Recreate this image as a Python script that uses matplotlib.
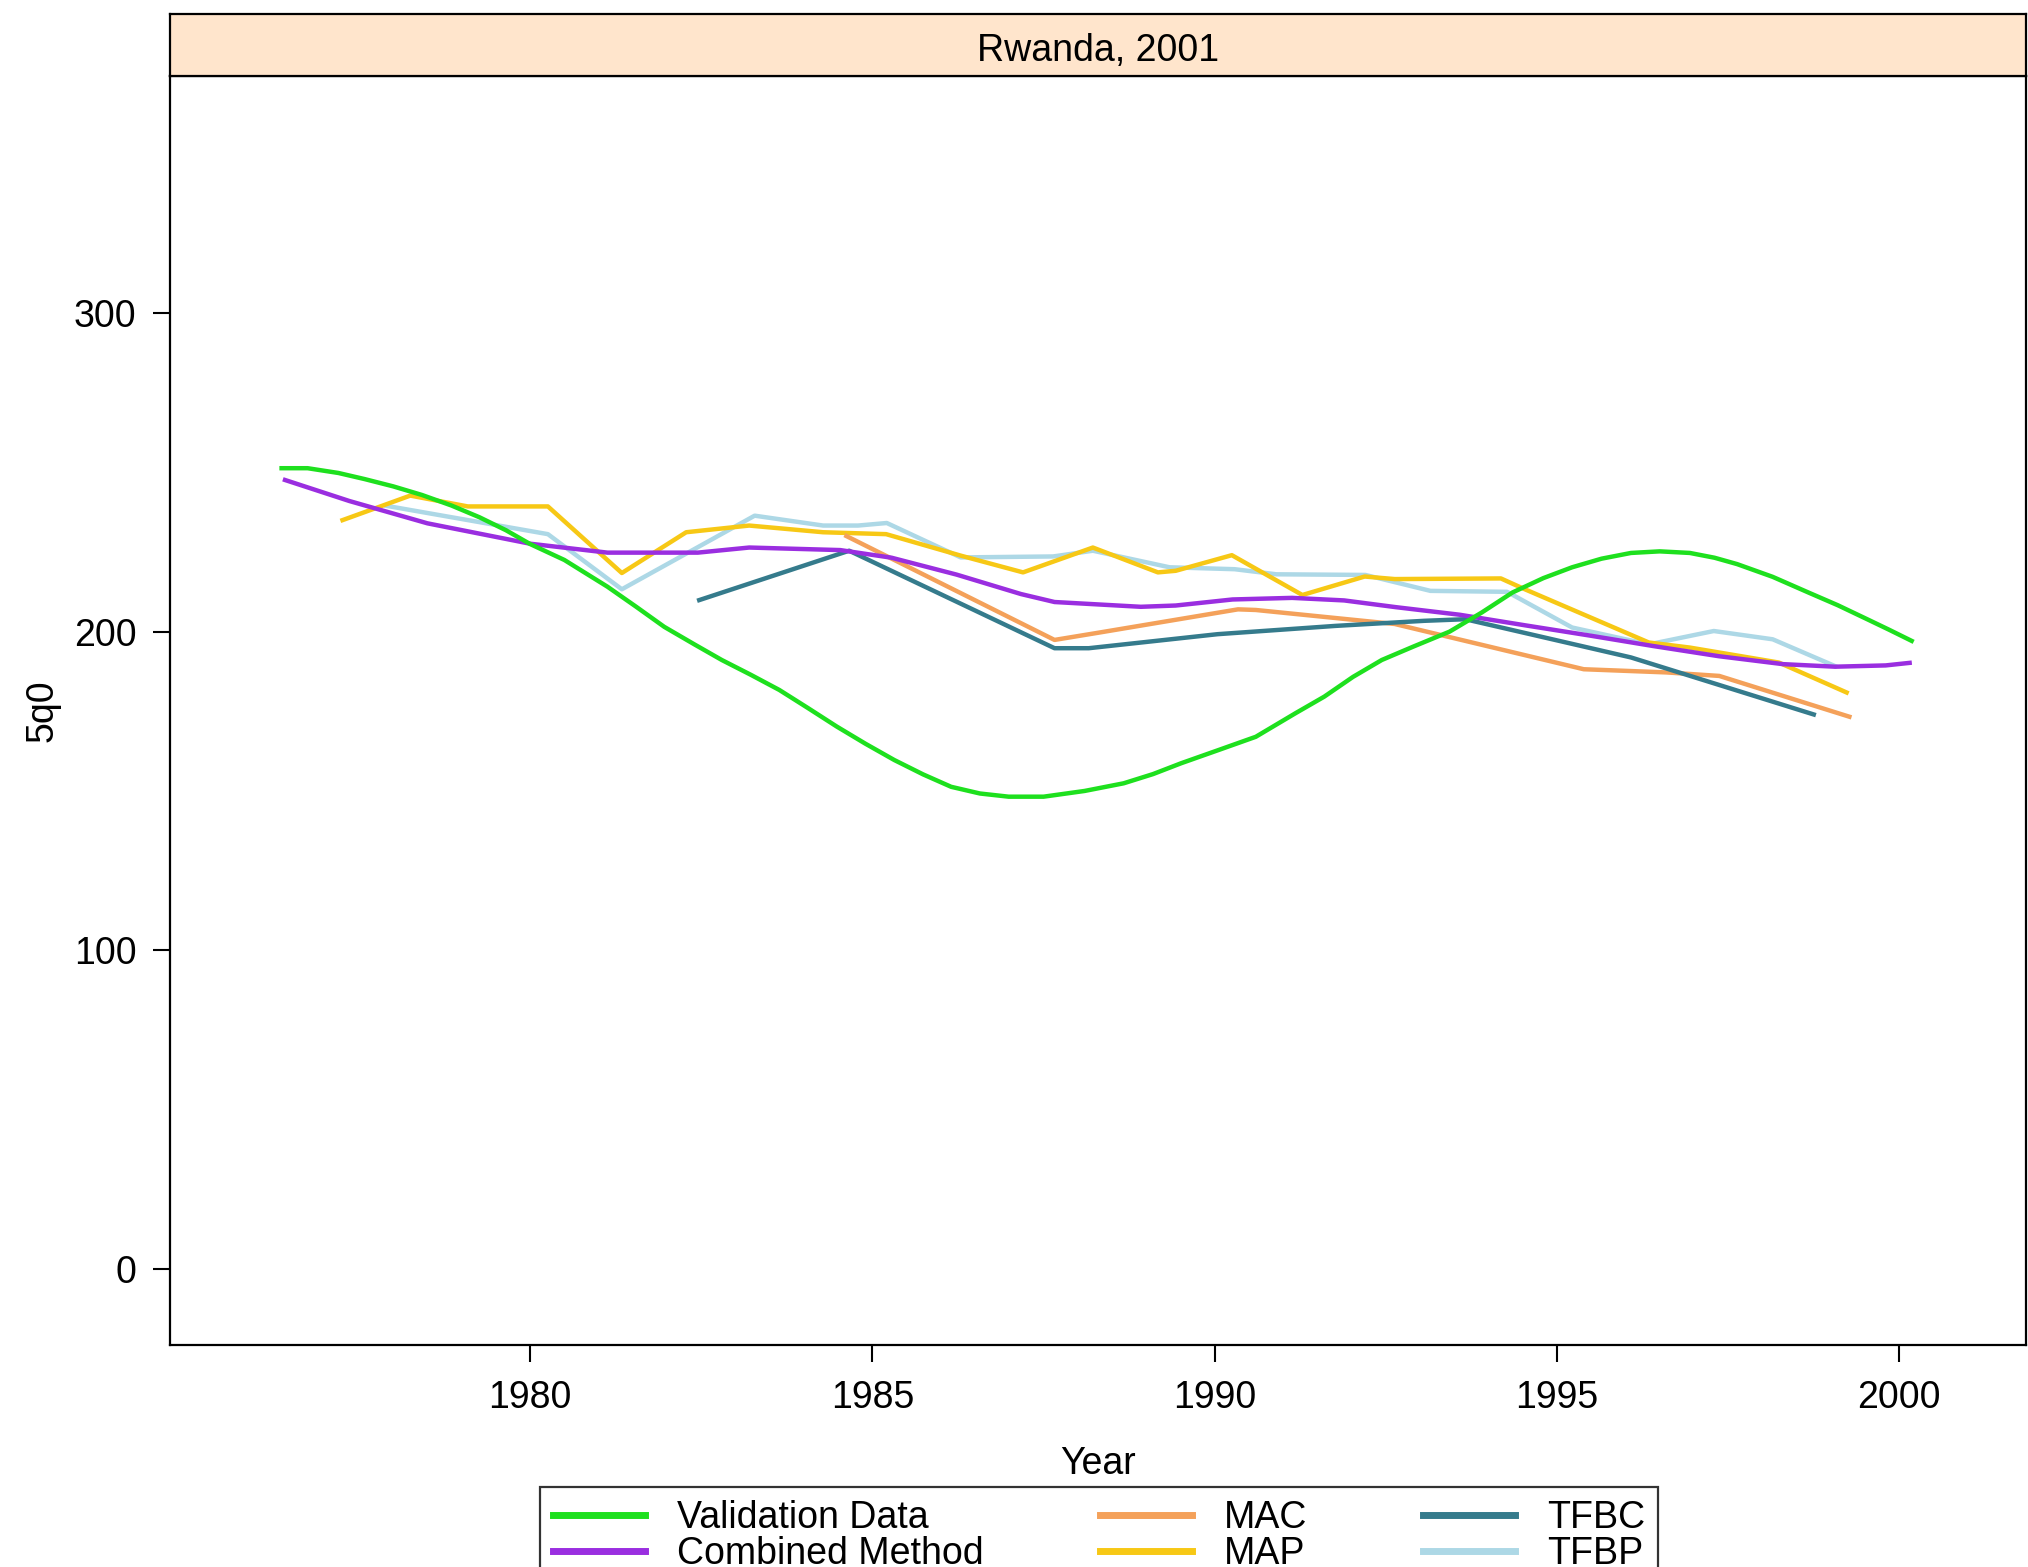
import matplotlib
matplotlib.use("Agg")
from matplotlib import pyplot as plt

# --- data ---
valid_years = [1976.37, 1976.75, 1977.2, 1977.58, 1978.0, 1978.42, 1978.85, 1979.26, 1979.65,
               1980.0, 1980.5, 1981.13, 1981.55, 1981.96, 1982.4, 1982.8, 1983.22, 1983.64,
               1984.06, 1984.48, 1984.9, 1985.32, 1985.74, 1986.15, 1986.57, 1986.99, 1987.5,
               1988.1, 1988.67, 1989.1, 1989.51, 1990.05, 1990.6, 1991.18, 1991.6, 1992.02,
               1992.44, 1992.9, 1993.43, 1993.9, 1994.35, 1994.8, 1995.22, 1995.65, 1996.08,
               1996.5, 1996.94, 1997.3, 1997.63, 1998.15, 1998.67, 1999.1, 1999.53, 1999.85,
               2000.18]
valid_q = [251.3, 251.3, 249.8, 247.9, 245.6, 242.9, 239.6, 235.9, 231.8,
           227.5, 222.5, 214.1, 207.8, 201.5, 196.0, 191.1, 186.5, 181.7,
           176.0, 170.2, 164.8, 159.7, 155.2, 151.3, 149.2, 148.2, 148.2,
           150.0, 152.4, 155.3, 158.7, 162.8, 167.0, 174.4, 179.6, 185.8,
           191.1, 195.3, 200.0, 206.0, 212.3, 216.8, 220.2, 222.9, 224.7,
           225.2, 224.7, 223.2, 221.2, 217.2, 212.3, 208.3, 203.9, 200.6,
           197.1]

comb_years = [1976.42, 1977.36, 1978.5, 1980.0, 1981.13, 1982.45, 1983.2, 1984.53, 1985.28,
              1986.23, 1987.17, 1987.66, 1988.92, 1989.43, 1990.26, 1991.13, 1991.89, 1992.64,
              1993.58, 1994.53, 1995.47, 1996.4, 1997.36, 1998.3, 1999.06, 1999.8, 2000.15]
comb_q = [247.6, 241.0, 234.0, 227.6, 224.8, 224.8, 226.4, 225.6, 223.2,
          217.9, 211.8, 209.3, 207.8, 208.2, 210.1, 210.6, 209.8, 207.7,
          205.3, 202.0, 198.8, 195.5, 192.3, 189.8, 189.0, 189.4, 190.2]

mac_years = [1984.62, 1987.66, 1988.31, 1990.34, 1990.6, 1992.63, 1995.39, 1996.6, 1997.37, 1999.27]
mac_q = [230.0, 197.4, 199.7, 207.0, 206.8, 202.4, 188.2, 187.2, 186.1, 173.3]

map_years = [1977.26, 1978.25, 1979.09, 1980.26, 1981.34, 1982.28, 1983.2, 1984.28, 1985.2,
             1986.3, 1987.2, 1988.22, 1989.17, 1989.43, 1990.25, 1991.28, 1992.19, 1992.63,
             1994.18, 1994.53, 1996.34, 1996.94, 1998.24, 1999.23]
map_q = [235.0, 242.7, 239.3, 239.3, 218.4, 231.2, 233.3, 231.2, 230.6,
         223.8, 218.6, 226.4, 218.6, 219.1, 224.0, 211.5, 217.3, 216.5,
         216.7, 213.3, 196.6, 195.0, 190.3, 180.9]

tfbc_years = [1982.47, 1984.66, 1987.66, 1988.16, 1990.04, 1991.76, 1993.06, 1993.66, 1996.08, 1998.75]
tfbc_q = [209.9, 225.4, 194.8, 194.8, 199.2, 201.8, 203.4, 203.9, 191.9, 174.0]

tfbp_years = [1977.9, 1980.26, 1981.34, 1983.28, 1984.28, 1984.79, 1985.21, 1986.29, 1987.64,
              1988.22, 1989.34, 1990.29, 1990.9, 1992.2, 1993.15, 1994.27, 1995.22, 1996.34,
              1997.29, 1998.15, 1999.06]
tfbp_q = [239.5, 230.6, 213.3, 236.4, 233.3, 233.3, 234.1, 223.3, 223.6,
          225.4, 220.2, 219.6, 218.0, 217.8, 212.8, 212.5, 201.3, 196.0,
          200.2, 197.6, 189.2]

x_ticks = [1980, 1985, 1990, 1995, 2000]
y_ticks = [0, 100, 200, 300]
panel_title = "Rwanda, 2001"

W, H = 2028, 1567
plt.rcParams['font.family'] = ['Liberation Sans', 'DejaVu Sans']
FS = 27

fig = plt.figure(figsize=(W / 100, H / 100), dpi=100)
left, right = 170 / W, 2026 / W
ax = fig.add_axes([left, 1 - 1345 / H, right - left, (1345 - 76) / H])
strip = fig.add_axes([left, 1 - 76 / H, right - left, (76 - 14) / H])

lw = 3.2
ax.plot(tfbp_years, tfbp_q, color='#add8e6', lw=lw, label='TFBP', zorder=2)
ax.plot(map_years, map_q, color='#f7c815', lw=lw, label='MAP', zorder=3)
ax.plot(mac_years, mac_q, color='#f4a15a', lw=lw, label='MAC', zorder=3)
ax.plot(tfbc_years, tfbc_q, color='#357b8c', lw=lw, label='TFBC', zorder=4)
ax.plot(comb_years, comb_q, color='#9a2ee0', lw=lw, label='Combined Method', zorder=5)
ax.plot(valid_years, valid_q, color='#1ee01e', lw=lw, label='Validation Data', zorder=6)

ax.set_xlim(1974.74, 2001.85)
ax.set_ylim(-23.9, 374.4)
ax.set_xticks(x_ticks)
ax.set_yticks(y_ticks)
ax.tick_params(axis='both', direction='out', labelsize=FS, width=1.5, length=12, color='black')
ax.tick_params(axis='y', pad=12)
ax.tick_params(axis='x', pad=13)
for sp in ax.spines.values():
    sp.set_linewidth(1.6)
ax.set_xlabel('Year', fontsize=FS, labelpad=22)
ax.set_ylabel('5q0', fontsize=FS, labelpad=10)

strip.set_facecolor('#ffe5cc')
strip.set_xticks([])
strip.set_yticks([])
for sp in strip.spines.values():
    sp.set_linewidth(1.6)
strip.text(0.5, 0.4, panel_title, ha='center', va='center', fontsize=FS, transform=strip.transAxes)

handles, labels = ax.get_legend_handles_labels()
order = ['Validation Data', 'Combined Method', 'MAC', 'MAP', 'TFBC', 'TFBP']
hmap = dict(zip(labels, handles))
leg = fig.legend([hmap[k] for k in order], order, loc='upper center',
                 bbox_to_anchor=(1099 / W, 1 - 1487 / H), ncol=3, fontsize=FS,
                 frameon=True, fancybox=False, edgecolor='black', borderaxespad=0,
                 handlelength=2.45, handletextpad=0.85, columnspacing=3.1,
                 labelspacing=0.0, borderpad=0.35)
leg.get_frame().set_linewidth(1.6)
for line in leg.get_lines():
    line.set_linewidth(5)

fig.savefig('out.png', dpi=100)
